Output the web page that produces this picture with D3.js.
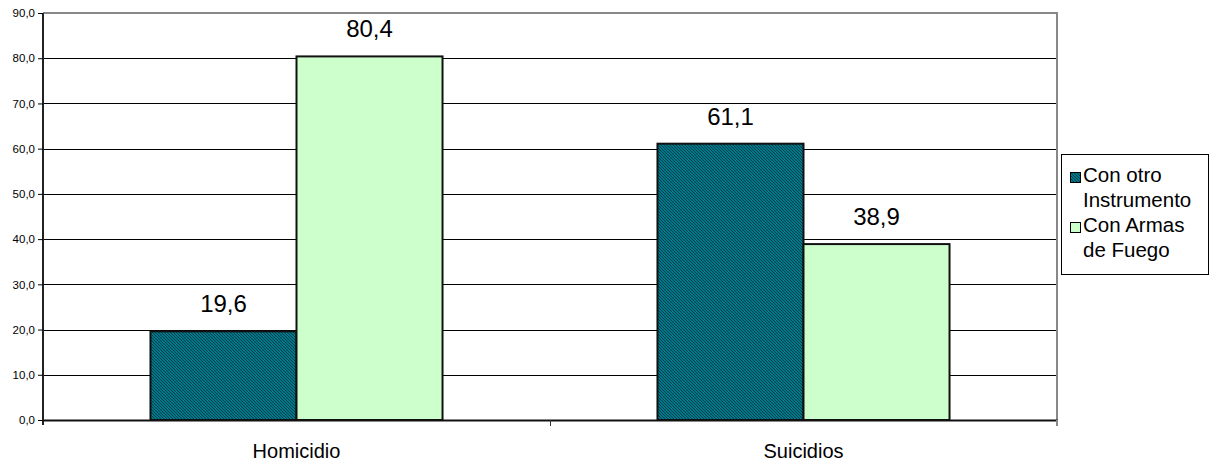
<!DOCTYPE html>
<html>
<head>
<meta charset="utf-8">
<script src="https://cdn.jsdelivr.net/npm/d3@7"></script>
<style>
  body { margin: 0; background: #fff; }
  text { font-family: "Liberation Sans", Arial, sans-serif; fill: #000; }
</style>
</head>
<body>
<div id="chart"></div>
<script>
const categories = ["Homicidio", "Suicidios"];
const seriesNames = ["Con otro Instrumento", "Con Armas de Fuego"];
const otroInstrumento = [19.6, 61.1];
const armasFuego = [80.4, 38.9];
const yTicks = [0, 10, 20, 30, 40, 50, 60, 70, 80, 90];

const W = 1209, H = 462;
const margin = { top: 13, right: 152, bottom: 42, left: 43 };
const width = W - margin.left - margin.right;
const height = H - margin.top - margin.bottom;

const svg = d3.select("#chart").append("svg")
  .attr("width", W).attr("height", H);

// hatch pattern for dark series
const defs = svg.append("defs");
const pat = defs.append("pattern")
  .attr("id", "hatch").attr("patternUnits", "userSpaceOnUse")
  .attr("width", 3).attr("height", 3);
pat.append("rect").attr("width", 3).attr("height", 3).attr("fill", "#00788a");
pat.append("path").attr("d", "M-1,-1 l5,5 M-1,2 l2,2 M2,-1 l2,2")
  .attr("stroke", "#00404d").attr("stroke-width", 1);

const g = svg.append("g").attr("transform", `translate(${margin.left},${margin.top})`);

const x0 = d3.scaleBand().domain(categories).range([0, width]);
const x1 = d3.scaleBand().domain(seriesNames).range([0, x0.bandwidth()]).paddingOuter(0.736);
const y = d3.scaleLinear().domain([0, 90]).range([height, 0]);

// gridlines
g.selectAll(".grid").data(yTicks.filter(d => d > 0 && d < 90)).enter()
  .append("line")
  .attr("x1", 0).attr("x2", width)
  .attr("y1", d => Math.round(y(d)) + 0.5).attr("y2", d => Math.round(y(d)) + 0.5)
  .attr("stroke", "#000").attr("stroke-width", 1);

// plot frame top/right (gray)
g.append("path")
  .attr("d", `M0,${y(90)} H${width} V${height}`)
  .attr("fill", "none").attr("stroke", "#888").attr("stroke-width", 2);

const values = [otroInstrumento, armasFuego];
const fills = ["url(#hatch)", "#ccffcc"];

const groups = g.selectAll(".cat").data(categories).enter()
  .append("g").attr("transform", d => `translate(${x0(d)},0)`);

seriesNames.forEach((s, si) => {
  groups.append("rect")
    .attr("x", x1(s))
    .attr("width", x1.bandwidth())
    .attr("y", (d, i) => y(values[si][i]))
    .attr("height", (d, i) => height - y(values[si][i]))
    .attr("fill", fills[si])
    .attr("stroke", "#111").attr("stroke-width", 2);

  groups.append("text")
    .attr("x", x1(s) + x1.bandwidth() / 2)
    .attr("y", (d, i) => y(values[si][i]) - 19)
    .attr("text-anchor", "middle")
    .attr("font-size", 24)
    .text((d, i) => values[si][i].toFixed(1).replace(".", ","));
});

// y axis
const yAxis = g.append("g")
  .call(d3.axisLeft(y).tickValues(yTicks).tickSize(5)
    .tickFormat(d => d.toFixed(1).replace(".", ",")));
yAxis.select(".domain").attr("stroke", "#222").attr("stroke-width", 2)
  .attr("d", `M0,0V${height + 5}`);
yAxis.selectAll(".tick line").attr("stroke", "#000");
yAxis.selectAll(".tick text").attr("font-size", 11.5).attr("x", -8);

// x axis
const xAxis = g.append("g").attr("transform", `translate(0,${height})`)
  .call(d3.axisBottom(x0).tickSize(0));
xAxis.select(".domain").attr("stroke", "#111").attr("stroke-width", 2);
xAxis.selectAll(".tick text").attr("font-size", 20).attr("y", 38).attr("dy", null);
g.append("line").attr("x1", x0.bandwidth() + 0.5).attr("x2", x0.bandwidth() + 0.5)
  .attr("y1", height).attr("y2", height + 6).attr("stroke", "#333");
g.append("line").attr("x1", width).attr("x2", width)
  .attr("y1", height).attr("y2", height + 6).attr("stroke", "#888").attr("stroke-width", 2);

// legend
const leg = svg.append("g").attr("transform", "translate(1061,154)");
leg.append("rect").attr("x", 0.5).attr("y", 0.5).attr("width", 147).attr("height", 120)
  .attr("fill", "#fff").attr("stroke", "#000");
const legLines = [["Con otro", "Instrumento"], ["Con Armas", "de Fuego"]];
legLines.forEach((lines, i) => {
  const base = 28 + i * 50;
  leg.append("rect").attr("x", 9.5).attr("y", base - 9.5).attr("width", 10).attr("height", 10)
    .attr("fill", fills[i]).attr("stroke", "#000");
  lines.forEach((t, j) => {
    leg.append("text").attr("x", 22).attr("y", base + j * 25)
      .attr("font-size", 20.5).text(t);
  });
});
</script>
</body>
</html>
